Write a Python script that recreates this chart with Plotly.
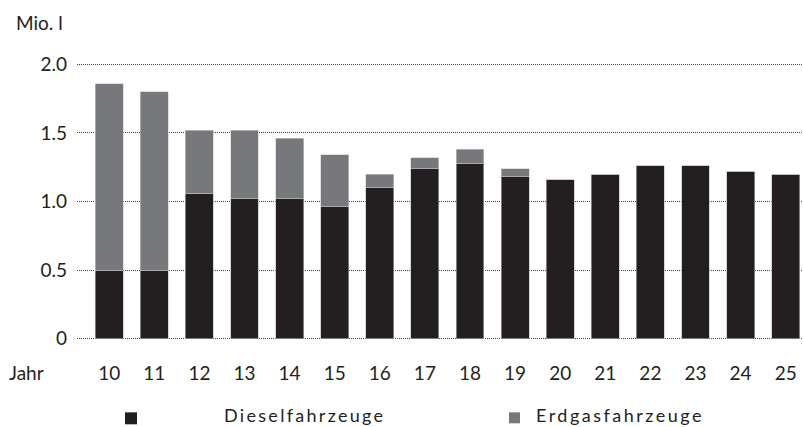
import plotly.graph_objects as go

years = ["10", "11", "12", "13", "14", "15", "16", "17", "18", "19", "20", "21", "22", "23", "24", "25"]
diesel = [0.50, 0.50, 1.06, 1.02, 1.02, 0.96, 1.10, 1.24, 1.28, 1.18, 1.16, 1.20, 1.26, 1.26, 1.22, 1.20]
erdgas = [1.36, 1.30, 0.46, 0.50, 0.44, 0.38, 0.10, 0.08, 0.10, 0.06, 0, 0, 0, 0, 0, 0]
y_ticks = [0, 0.5, 1.0, 1.5, 2.0]
y_tick_labels = ["0", "0.5", "1.0", "1.5", "2.0"]

BLACK = "#231f20"
GRAY = "#77787b"
FONT = "Lato"
FS = 19

# vertical geometry: value 0 at pixel 339, 2.0 at pixel 64
Y0, Y2 = 339.0, 64.0
unit = (Y0 - Y2) / 2.0
ymin, ymax = -0.025, 2.025
top = Y2 - (ymax - 2.0) * unit
bottom = Y0 + (0 - ymin) * unit
H = bottom - top

fig = go.Figure()
fig.add_trace(go.Bar(x=years, y=diesel, name="Dieselfahrzeuge", marker=dict(color=BLACK, line=dict(color="#bbbbbb", width=0.6)), width=0.62))
fig.add_trace(go.Bar(x=years, y=erdgas, name="Erdgasfahrzeuge", marker=dict(color=GRAY, line=dict(color="#cccccc", width=0.6)), width=0.62))

fig.update_layout(
    barmode="stack",
    width=803, height=427,
    margin=dict(l=77, r=0, t=top, b=427 - bottom),
    plot_bgcolor="white", paper_bgcolor="white",
    showlegend=False,
    font=dict(family=FONT, size=FS, color=BLACK),
    xaxis=dict(type="category", range=[-0.714, 15.384], showgrid=False, zeroline=False,
               showline=False, ticks="", ticklabelstandoff=18, tickfont=dict(size=FS)),
    yaxis=dict(range=[ymin, ymax], tickvals=y_ticks, ticktext=y_tick_labels, showgrid=True,
               gridcolor="#444444", griddash="1px,1px", gridwidth=1, zeroline=False, showline=False,
               ticks="", ticklabelstandoff=9, tickfont=dict(size=FS)),
)

def px_x(p):
    return (p - 77) / 726
def px_y(p):
    return (bottom - p) / H

fig.add_annotation(text="Mio. l", xref="paper", yref="paper", x=px_x(14), y=px_y(22),
                   xanchor="left", yanchor="middle", showarrow=False, font=dict(size=FS, color=BLACK))
fig.add_annotation(text="Jahr", xref="paper", yref="paper", x=px_x(7), y=px_y(373),
                   xanchor="left", yanchor="middle", showarrow=False, font=dict(size=FS, color=BLACK))

# legend
fig.add_shape(type="rect", xref="paper", yref="paper", x0=px_x(125), x1=px_x(137), y0=px_y(425), y1=px_y(413),
              fillcolor=BLACK, line=dict(width=0))
fig.add_shape(type="rect", xref="paper", yref="paper", x0=px_x(509), x1=px_x(520), y0=px_y(424), y1=px_y(413),
              fillcolor=GRAY, line=dict(width=0))
fig.add_annotation(text='<span style="letter-spacing:2.3px">Dieselfahrzeuge</span>', xref="paper", yref="paper",
                   x=px_x(222), y=px_y(416), xanchor="left", yanchor="middle", showarrow=False,
                   font=dict(size=18, color=BLACK))
fig.add_annotation(text='<span style="letter-spacing:2.5px">Erdgasfahrzeuge</span>', xref="paper", yref="paper",
                   x=px_x(534), y=px_y(416), xanchor="left", yanchor="middle", showarrow=False,
                   font=dict(size=18, color=BLACK))

fig.write_html("out.html", config={"displayModeBar": False},
               post_script="document.body.style.margin='0';document.body.style.overflow='hidden';")
